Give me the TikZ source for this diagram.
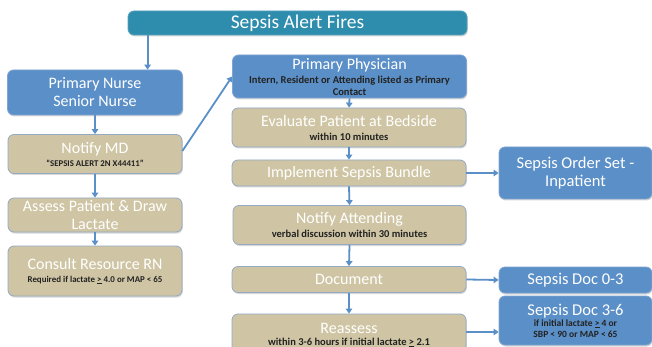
\documentclass[tikz,border=0pt]{standalone}
\usepackage{fontspec}
\setmainfont{Carlito}
\usetikzlibrary{arrows.meta,shadows}
\definecolor{teal}{HTML}{2E8CAC}
\definecolor{bluebox}{HTML}{5B8FC7}
\definecolor{tanbox}{HTML}{CFC5A4}
\definecolor{tanedge}{HTML}{93A9C4}
\definecolor{blueedge}{HTML}{7FA5D2}
\definecolor{arrowc}{HTML}{5B8FC7}
\definecolor{subtxt}{HTML}{222222}
\tikzset{
  box/.style={rounded corners=6pt, line width=0.8pt, align=center, inner sep=1pt,
    text=white, font=\fontsize{16}{18}\selectfont,
    drop shadow={shadow xshift=0.8pt, shadow yshift=-1.5pt, fill=black!30, opacity=0.5}},
  tan/.style={box, fill=tanbox, draw=tanedge},
  blu/.style={box, fill=bluebox, draw=blueedge},
  tealb/.style={box, fill=teal, draw=teal!80!white, font=\fontsize{19.5}{21}\selectfont},
  arr/.style={draw=arrowc, line width=1.8pt, -{Triangle[width=6.5pt,length=5pt]}},
}
\newcommand{\subt}[3]{{\color{subtxt}\bfseries\fontsize{#1}{#2}\selectfont #3}}
\begin{document}
\begin{tikzpicture}[x=1pt,y=-1pt]
\useasboundingbox (0,0) rectangle (652,347);
\clip (0,0) rectangle (652,347);
\fill[white] (0,0) rectangle (652,347);

\node[tealb, minimum width=339pt, minimum height=24pt] (alert) at (297.5,23) {Sepsis Alert Fires};

\node[blu, minimum width=175pt, minimum height=45pt] (nurse) at (95,92.5) {Primary Nurse\\Senior Nurse};
\node[tan, minimum width=174pt, minimum height=39pt] (notify) at (95,154) {Notify MD\\[-5pt]\subt{8.8}{10}{``SEPSIS ALERT 2N X44411''}};
\node[tan, minimum width=174pt, minimum height=34pt] (assess) at (95,215) {Assess Patient \& Draw\\Lactate};
\node[tan, minimum width=174pt, minimum height=50pt] (consult) at (95,271) {Consult Resource RN\\[-5pt]\subt{8.9}{10}{Required if lactate \underline{>} 4.0 or MAP < 65}};

\node[blu, minimum width=234pt, minimum height=43pt] (phys) at (349.5,76.5) {Primary Physician\\[-4pt]\subt{10.5}{12}{Intern, Resident or Attending listed as Primary}\\[-6pt]\subt{10.5}{12}{Contact}};
\node[tan, minimum width=234pt, minimum height=39pt] (eval) at (349,127.5) {Evaluate Patient at Bedside\\[-4pt]\subt{10.5}{12}{within 10 minutes}};
\node[tan, minimum width=234pt, minimum height=26pt] (impl) at (349,173) {Implement Sepsis Bundle};
\node[tan, minimum width=233pt, minimum height=39pt] (attend) at (349.5,225) {Notify Attending\\[-4pt]\subt{10.5}{12}{verbal discussion within 30 minutes}};
\node[tan, minimum width=234pt, minimum height=26pt] (doc) at (349,279.5) {Document};
\node[tan, minimum width=234pt, minimum height=42pt] (reass) at (349,335) {Reassess\\[-6pt]\subt{10.5}{12}{within 3-6 hours if initial lactate \underline{>} 2.1}};

\node[blu, minimum width=153pt, minimum height=52pt, font=\fontsize{16.5}{18}\selectfont] (order) at (575.5,173) {Sepsis Order Set -\\Inpatient};
\node[blu, minimum width=153pt, minimum height=26pt, font=\fontsize{16.5}{18}\selectfont] (doc03) at (575.5,280) {Sepsis Doc 0-3};
\node[blu, minimum width=153pt, minimum height=49pt, font=\fontsize{16.5}{18}\selectfont] (doc36) at (575.5,320.5) {Sepsis Doc 3-6\\[-7pt]\subt{9.5}{11}{if initial lactate \underline{>} 4 or}\\[-7pt]\subt{9.5}{11}{SBP < 90 or MAP < 65}};

\draw[arr] ([xshift=20pt]alert.south west) -- ([xshift=20pt]alert.south west |- nurse.north);
\draw[arr] (nurse.south) -- (notify.north);
\draw[arr] (notify.south) -- (assess.north);
\draw[arr] (assess.south) -- (consult.north);
\draw[arr] ([yshift=3pt]notify.east) -- (phys.west);
\draw[arr] (phys.south) -- (eval.north);
\draw[arr] (eval.south) -- (impl.north);
\draw[arr] (impl.south) -- (attend.north);
\draw[arr] (attend.south) -- (doc.north);
\draw[arr] (doc.south) -- (reass.north);
\draw[arr] (impl.east) -- (order.west);
\draw[arr] (doc.east) -- (doc03.west);
\draw[arr] ([yshift=3pt]reass.east) -- ([yshift=-11.5pt]doc36.west);
\end{tikzpicture}
\end{document}
